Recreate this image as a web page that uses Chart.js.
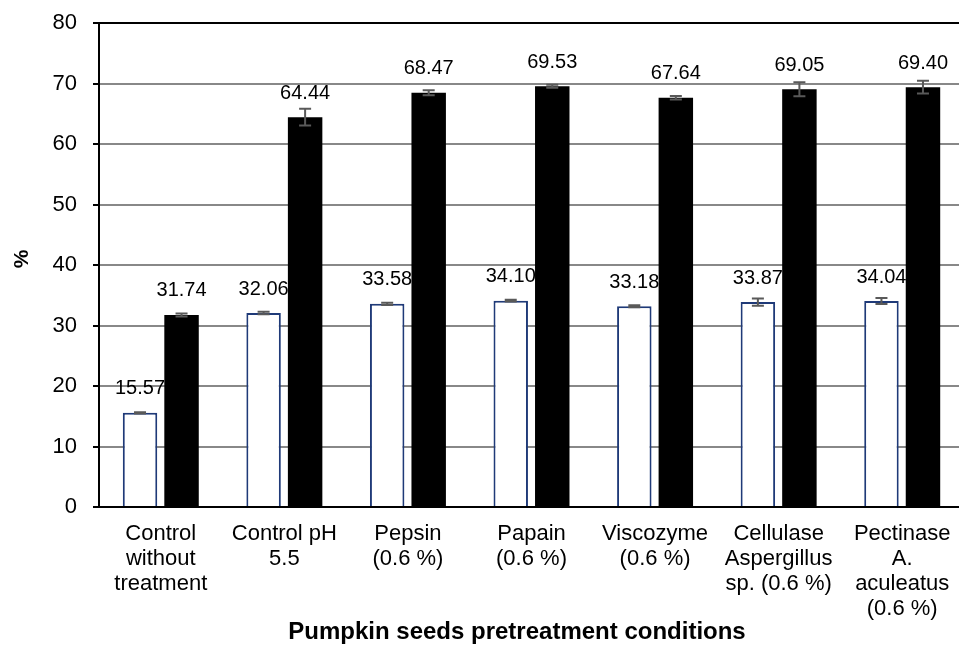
<!DOCTYPE html>
<html>
<head>
<meta charset="utf-8">
<script src="https://cdn.jsdelivr.net/npm/chart.js@4.4.1/dist/chart.umd.min.js"></script>
<style>
html,body{margin:0;padding:0;background:#fff;overflow:hidden;}
#wrap{width:964px;height:645px;}
</style>
</head>
<body>
<div id="wrap"><canvas id="c" width="964" height="645"></canvas></div>
<script>
const categories = [
  ["Control", "without", "treatment"],
  ["Control pH", "5.5"],
  ["Pepsin", "(0.6 %)"],
  ["Papain", "(0.6 %)"],
  ["Viscozyme", "(0.6 %)"],
  ["Cellulase", "Aspergillus", "sp. (0.6 %)"],
  ["Pectinase", "A.", "aculeatus", "(0.6 %)"]
];
const whiteValues = [15.57, 32.06, 33.58, 34.10, 33.18, 33.87, 34.04];
const blackValues = [31.74, 64.44, 68.47, 69.53, 67.64, 69.05, 69.40];
const whiteErrors = [0.1, 0.2, 0.2, 0.15, 0.15, 0.6, 0.5];
const blackErrors = [0.25, 1.4, 0.4, 0.25, 0.3, 1.15, 1.05];
const yTicks = [0, 10, 20, 30, 40, 50, 60, 70, 80];
const xTitle = "Pumpkin seeds pretreatment conditions";
const yTitle = "%";

const FONT = "'Liberation Sans', Arial, sans-serif";
const errors = [whiteErrors, blackErrors];

const overlayPlugin = {
  id: 'overlay',
  afterDatasetsDraw(chart) {
    const ctx = chart.ctx;
    const y = chart.scales.y;
    chart.data.datasets.forEach((ds, di) => {
      const meta = chart.getDatasetMeta(di);
      meta.data.forEach((bar, i) => {
        const v = ds.data[i];
        const e = errors[di][i];
        const x = bar.x;
        const yt = y.getPixelForValue(v + e);
        const yb = y.getPixelForValue(v - e);
        ctx.save();
        ctx.strokeStyle = '#595959';
        ctx.lineWidth = 2;
        ctx.beginPath();
        ctx.moveTo(x, yt); ctx.lineTo(x, yb);
        ctx.moveTo(x - 6, yt); ctx.lineTo(x + 6, yt);
        ctx.moveTo(x - 6, yb); ctx.lineTo(x + 6, yb);
        ctx.stroke();
        ctx.fillStyle = '#000';
        ctx.font = '20px ' + FONT;
        ctx.textAlign = 'center';
        ctx.textBaseline = 'middle';
        ctx.fillText(v.toFixed(2), x, y.getPixelForValue(v) - 24);
        ctx.restore();
      });
    });
  },
  afterDraw(chart) {
    const ctx = chart.ctx;
    ctx.save();
    ctx.fillStyle = '#000';
    ctx.textAlign = 'center';
    ctx.textBaseline = 'middle';
    ctx.font = 'bold 24px ' + FONT;
    ctx.fillText(xTitle, 517, 632);
    ctx.translate(22, 259);
    ctx.rotate(-Math.PI / 2);
    ctx.font = 'bold 21px ' + FONT;
    ctx.fillText(yTitle, 0, 0);
    ctx.restore();
  }
};

new Chart(document.getElementById('c'), {
  type: 'bar',
  data: {
    labels: categories,
    datasets: [
      {
        data: whiteValues,
        backgroundColor: '#ffffff',
        borderColor: '#1f3a78',
        borderWidth: 2,
        categoryPercentage: 0.672,
        barPercentage: 0.83
      },
      {
        data: blackValues,
        backgroundColor: '#000000',
        borderColor: '#000000',
        borderWidth: 0,
        categoryPercentage: 0.672,
        barPercentage: 0.83
      }
    ]
  },
  options: {
    responsive: false,
    animation: false,
    layout: { padding: { top: 23, right: 0, left: 0, bottom: 0 } },
    plugins: {
      legend: { display: false },
      tooltip: { enabled: false }
    },
    scales: {
      x: {
        grid: { display: false, drawTicks: false },
        border: { display: true, color: '#000', width: 2 },
        ticks: {
          color: '#000',
          font: { family: FONT, size: 22, lineHeight: 1.14 },
          padding: 14,
          maxRotation: 0,
          autoSkip: false
        },
        afterFit(scale) {
          scale.height = 645 - 507;
          scale.paddingLeft = 0; scale.paddingRight = 0;
        }
      },
      y: {
        min: 0,
        max: 80,
        afterBuildTicks(scale) { scale.ticks = yTicks.map(v => ({ value: v })); },
        grid: {
          color: (c) => (c.tick && c.tick.value === 80) ? '#000' : '#888888',
          lineWidth: 2,
          tickColor: '#000',
          tickLength: 6,
          drawTicks: true
        },
        border: { display: true, color: '#000', width: 2 },
        ticks: {
          color: '#000',
          font: { family: FONT, size: 22 },
          padding: 16
        },
        afterFit(scale) {
          scale.width = 99;
          scale.paddingTop = 0; scale.paddingBottom = 0;
        }
      }
    }
  },
  plugins: [overlayPlugin]
});
</script>
</body>
</html>
